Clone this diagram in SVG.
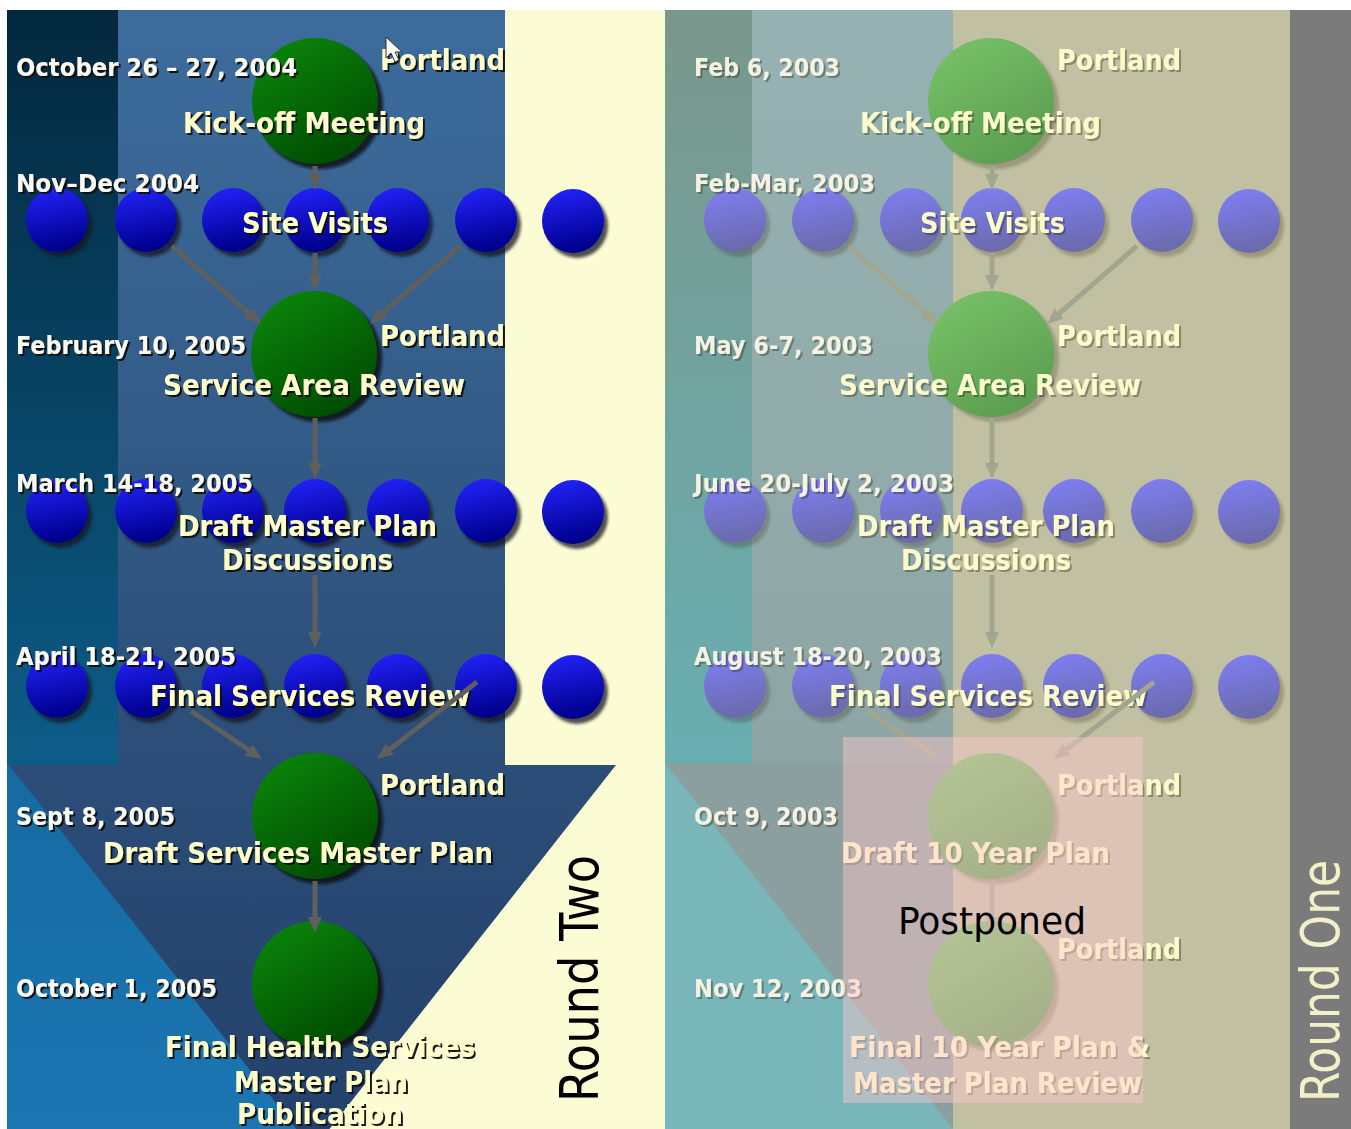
<svg xmlns="http://www.w3.org/2000/svg" xmlns:xlink="http://www.w3.org/1999/xlink" width="1351" height="1129" viewBox="0 0 1351 1129">
  <style>
    .date { font-family: "DejaVu Sans", Verdana, sans-serif; font-weight: bold; font-size: 24px; fill: #fafaf2; filter: url(#txtShadow); }
    .lbl { font-family: "DejaVu Sans Condensed", "DejaVu Sans", sans-serif; font-weight: bold; font-size: 29px; fill: #ffffcc; filter: url(#txtShadow); }
    .rdate { font-family: "DejaVu Sans", Verdana, sans-serif; font-weight: bold; font-size: 24px; fill: #f4f2e2; filter: url(#txtShadowSoft); }
    .rlbl { font-family: "DejaVu Sans Condensed", "DejaVu Sans", sans-serif; font-weight: bold; font-size: 29px; fill: #fbfbcb; filter: url(#txtShadowSoft); }
    .round { font-family: "DejaVu Sans Condensed", "DejaVu Sans", sans-serif; font-size: 53px; }
    .conn { stroke: #5f5f5f; stroke-width: 5; fill: none; marker-end: url(#headL); }
    .rconn { stroke: #a2a68e; stroke-width: 5; fill: none; marker-end: url(#headR); }
  </style>
  <defs>
    <filter id="txtShadow" x="-10%" y="-30%" width="120%" height="160%">
      <feDropShadow dx="2" dy="2" stdDeviation="0.7" flood-color="#101010" flood-opacity="0.95"/>
    </filter>
    <filter id="txtShadowSoft" x="-10%" y="-30%" width="120%" height="160%">
      <feDropShadow dx="2" dy="2" stdDeviation="0.7" flood-color="#202010" flood-opacity="0.35"/>
    </filter>
    <filter id="soft" x="-20%" y="-20%" width="140%" height="140%">
      <feGaussianBlur stdDeviation="1.5"/>
    </filter>

    <!-- left panel fills -->
    <linearGradient id="gLeftCol" x1="0" y1="0" x2="0" y2="1">
      <stop offset="0" stop-color="#03283e"/>
      <stop offset="1" stop-color="#0d5c88"/>
    </linearGradient>
    <linearGradient id="gLeftLow" x1="0" y1="0" x2="0" y2="1">
      <stop offset="0" stop-color="#166aa1"/>
      <stop offset="1" stop-color="#1b76b2"/>
    </linearGradient>
    <linearGradient id="gArrow" gradientUnits="userSpaceOnUse" x1="0" y1="10" x2="0" y2="1150">
      <stop offset="0" stop-color="#3d6d9d"/>
      <stop offset="0.62" stop-color="#2c4f79"/>
      <stop offset="1" stop-color="#22406a"/>
    </linearGradient>

    <!-- right panel fills -->
    <linearGradient id="gRCol" x1="0" y1="0" x2="0" y2="1">
      <stop offset="0" stop-color="#7a978c"/>
      <stop offset="1" stop-color="#68aeb1"/>
    </linearGradient>
    <linearGradient id="gRArrow" gradientUnits="userSpaceOnUse" x1="0" y1="10" x2="0" y2="1129">
      <stop offset="0" stop-color="#96b2b2"/>
      <stop offset="0.65" stop-color="#8ea5a5"/>
      <stop offset="1" stop-color="#8b9d9d"/>
    </linearGradient>

    <!-- bubble fills -->
    <linearGradient id="gBlue" x1="0" y1="0" x2="0.2" y2="1">
      <stop offset="0" stop-color="#2424ff"/>
      <stop offset="1" stop-color="#00008e"/>
    </linearGradient>
    <linearGradient id="gGreen" x1="0.2" y1="0" x2="0.8" y2="1">
      <stop offset="0" stop-color="#0a850a"/>
      <stop offset="1" stop-color="#004800"/>
    </linearGradient>
    <linearGradient id="gBlueR" x1="0" y1="0" x2="0.2" y2="1">
      <stop offset="0" stop-color="#7f7ff6"/>
      <stop offset="1" stop-color="#6b6bae"/>
    </linearGradient>
    <linearGradient id="gGreenR" x1="0.2" y1="0" x2="0.8" y2="1">
      <stop offset="0" stop-color="#77c167"/>
      <stop offset="1" stop-color="#5a9b50"/>
    </linearGradient>

    <g id="dotL">
      <ellipse cx="4" cy="5" rx="31" ry="32" fill="#141420" opacity="0.75" filter="url(#soft)"/>
      <ellipse cx="0" cy="0" rx="31" ry="32" fill="url(#gBlue)"/>
    </g>
    <g id="bigL">
      <ellipse cx="5" cy="5" rx="63" ry="63" fill="#0a0a0a" opacity="0.8" filter="url(#soft)"/>
      <ellipse cx="0" cy="0" rx="63" ry="63" fill="url(#gGreen)"/>
    </g>
    <g id="dotR">
      <ellipse cx="4" cy="5" rx="31" ry="32" fill="#302810" opacity="0.25" filter="url(#soft)"/>
      <ellipse cx="0" cy="0" rx="31" ry="32" fill="url(#gBlueR)"/>
    </g>
    <g id="bigR">
      <ellipse cx="5" cy="5" rx="63" ry="63" fill="#302810" opacity="0.25" filter="url(#soft)"/>
      <ellipse cx="0" cy="0" rx="63" ry="63" fill="url(#gGreenR)"/>
    </g>

    <marker id="headL" markerUnits="userSpaceOnUse" markerWidth="16" markerHeight="14" refX="6" refY="7" orient="auto">
      <path d="M0,0 L16,7 L0,14 z" fill="#5f5f5f"/>
    </marker>
    <marker id="headR" markerUnits="userSpaceOnUse" markerWidth="16" markerHeight="14" refX="6" refY="7" orient="auto">
      <path d="M0,0 L16,7 L0,14 z" fill="#a2a68e"/>
    </marker>
  </defs>

  <rect x="0" y="0" width="1351" height="1129" fill="#ffffff"/>

  <!-- ===== Round Two backdrop ===== -->
  <g id="backdrop-round-two">
    <rect x="7" y="10" width="111" height="755" fill="url(#gLeftCol)"/>
    <rect x="7" y="765" width="310" height="364" fill="url(#gLeftLow)"/>
    <rect x="315" y="10" width="350" height="1119" fill="#fcfcd4"/>
    <path d="M118,10 H505 V765 H616 L313,1150 L9,765 H118 Z" fill="url(#gArrow)"/>
  </g>

  <!-- ===== Round One backdrop ===== -->
  <g id="backdrop-round-one">
    <rect x="665" y="10" width="87" height="753" fill="url(#gRCol)"/>
    <rect x="665" y="763" width="290" height="366" fill="#79b6ba"/>
    <rect x="752" y="10" width="201" height="753" fill="url(#gRArrow)"/>
    <path d="M665,763 H953 V1129 Z" fill="#8c9f9f"/>
    <rect x="953" y="10" width="337" height="1119" fill="#c1c0a2"/>
    <rect x="1290" y="10" width="61" height="1119" fill="#7b7b7b"/>
  </g>

  <!-- ===== Round Two steps ===== -->
  <g id="r2-kickoff">
    <use xlink:href="#bigL" x="315" y="101"/>
    <text class="date" x="16" y="76" textLength="281" lengthAdjust="spacingAndGlyphs">October 26 – 27, 2004</text>
    <text class="lbl" x="380" y="70" textLength="125" lengthAdjust="spacingAndGlyphs">Portland</text>
    <text class="lbl" x="183" y="133" textLength="242" lengthAdjust="spacingAndGlyphs">Kick-off Meeting</text>
  </g>
  <g id="r2-site-visits">
    <use xlink:href="#dotL" x="57" y="220"/>
    <use xlink:href="#dotL" x="146" y="220"/>
    <use xlink:href="#dotL" x="233" y="220"/>
    <use xlink:href="#dotL" x="315" y="220"/>
    <use xlink:href="#dotL" x="398" y="220"/>
    <use xlink:href="#dotL" x="486" y="220"/>
    <use xlink:href="#dotL" x="573" y="221"/>
    <text class="date" x="16" y="192" textLength="183" lengthAdjust="spacingAndGlyphs">Nov–Dec 2004</text>
    <text class="lbl" x="242" y="233" textLength="146" lengthAdjust="spacingAndGlyphs">Site Visits</text>
  </g>
  <g id="r2-service-area">
    <use xlink:href="#bigL" x="314" y="354"/>
    <text class="date" x="16" y="354" textLength="230" lengthAdjust="spacingAndGlyphs">February 10, 2005</text>
    <text class="lbl" x="380" y="346" textLength="125" lengthAdjust="spacingAndGlyphs">Portland</text>
    <text class="lbl" x="163" y="395" textLength="302" lengthAdjust="spacingAndGlyphs">Service Area Review</text>
  </g>
  <g id="r2-draft-discussions">
    <use xlink:href="#dotL" x="57" y="511"/>
    <use xlink:href="#dotL" x="146" y="511"/>
    <use xlink:href="#dotL" x="233" y="511"/>
    <use xlink:href="#dotL" x="315" y="511"/>
    <use xlink:href="#dotL" x="398" y="511"/>
    <use xlink:href="#dotL" x="486" y="511"/>
    <use xlink:href="#dotL" x="573" y="512"/>
    <text class="date" x="16" y="492" textLength="237" lengthAdjust="spacingAndGlyphs">March 14-18, 2005</text>
    <text class="lbl" x="178" y="536" textLength="259" lengthAdjust="spacingAndGlyphs">Draft Master Plan</text>
    <text class="lbl" x="222" y="570" textLength="171" lengthAdjust="spacingAndGlyphs">Discussions</text>
  </g>
  <g id="r2-final-review">
    <use xlink:href="#dotL" x="57" y="686"/>
    <use xlink:href="#dotL" x="146" y="686"/>
    <use xlink:href="#dotL" x="233" y="686"/>
    <use xlink:href="#dotL" x="315" y="686"/>
    <use xlink:href="#dotL" x="398" y="686"/>
    <use xlink:href="#dotL" x="486" y="686"/>
    <use xlink:href="#dotL" x="573" y="687"/>
    <text class="date" x="16" y="665" textLength="220" lengthAdjust="spacingAndGlyphs">April 18-21, 2005</text>
    <text class="lbl" x="150" y="706" textLength="320" lengthAdjust="spacingAndGlyphs">Final Services Review</text>
  </g>
  <g id="r2-draft-master-plan">
    <use xlink:href="#bigL" x="315" y="816"/>
    <text class="date" x="16" y="825" textLength="159" lengthAdjust="spacingAndGlyphs">Sept 8, 2005</text>
    <text class="lbl" x="380" y="795" textLength="125" lengthAdjust="spacingAndGlyphs">Portland</text>
  </g>
  <g id="r2-publication">
    <use xlink:href="#bigL" x="315" y="984"/>
    <text class="date" x="16" y="997" textLength="201" lengthAdjust="spacingAndGlyphs">October 1, 2005</text>
  </g>

  <g id="r2-connectors">
    <line class="conn" x1="315" y1="166" x2="315" y2="180"/>
    <line class="conn" x1="315" y1="253" x2="315" y2="281"/>
    <line class="conn" x1="172" y1="246" x2="253.5" y2="317.4"/>
    <line class="conn" x1="460" y1="246" x2="377.6" y2="317.5"/>
    <line class="conn" x1="315" y1="418" x2="315" y2="469"/>
    <line class="conn" x1="315" y1="575" x2="315" y2="638"/>
    <line class="conn" x1="191" y1="711" x2="253.7" y2="753.4"/>
    <line class="conn" x1="477" y1="682" x2="384.9" y2="752.9"/>
    <line class="conn" x1="315" y1="881" x2="315" y2="923"/>
  </g>

  <!-- labels of the lower steps sit above their connectors -->
  <g id="r2-lower-labels">
    <text class="lbl" x="103" y="863" textLength="390" lengthAdjust="spacingAndGlyphs">Draft Services Master Plan</text>
    <text class="lbl" x="165" y="1057" textLength="310" lengthAdjust="spacingAndGlyphs">Final Health Services</text>
    <text class="lbl" x="234" y="1092" textLength="174" lengthAdjust="spacingAndGlyphs">Master Plan</text>
    <text class="lbl" x="237" y="1124" textLength="166" lengthAdjust="spacingAndGlyphs">Publication</text>
  </g>

  <!-- ===== Round One steps ===== -->
  <g id="r1-kickoff">
    <use xlink:href="#bigR" x="991" y="101"/>
    <text class="rdate" x="694" y="76" textLength="146" lengthAdjust="spacingAndGlyphs">Feb 6, 2003</text>
    <text class="rlbl" x="1057" y="70" textLength="124" lengthAdjust="spacingAndGlyphs">Portland</text>
    <text class="rlbl" x="860" y="133" textLength="241" lengthAdjust="spacingAndGlyphs">Kick-off Meeting</text>
  </g>
  <g id="r1-site-visits">
    <use xlink:href="#dotR" x="735" y="220"/>
    <use xlink:href="#dotR" x="823" y="220"/>
    <use xlink:href="#dotR" x="911" y="220"/>
    <use xlink:href="#dotR" x="992" y="220"/>
    <use xlink:href="#dotR" x="1074" y="220"/>
    <use xlink:href="#dotR" x="1162" y="220"/>
    <use xlink:href="#dotR" x="1249" y="221"/>
    <text class="rdate" x="694" y="192" textLength="181" lengthAdjust="spacingAndGlyphs">Feb-Mar, 2003</text>
    <text class="rlbl" x="920" y="233" textLength="145" lengthAdjust="spacingAndGlyphs">Site Visits</text>
  </g>
  <g id="r1-service-area">
    <use xlink:href="#bigR" x="991" y="354"/>
    <text class="rdate" x="694" y="354" textLength="179" lengthAdjust="spacingAndGlyphs">May 6-7, 2003</text>
    <text class="rlbl" x="1057" y="346" textLength="124" lengthAdjust="spacingAndGlyphs">Portland</text>
    <text class="rlbl" x="839" y="395" textLength="302" lengthAdjust="spacingAndGlyphs">Service Area Review</text>
  </g>
  <g id="r1-draft-discussions">
    <use xlink:href="#dotR" x="735" y="511"/>
    <use xlink:href="#dotR" x="823" y="511"/>
    <use xlink:href="#dotR" x="911" y="511"/>
    <use xlink:href="#dotR" x="992" y="511"/>
    <use xlink:href="#dotR" x="1074" y="511"/>
    <use xlink:href="#dotR" x="1162" y="511"/>
    <use xlink:href="#dotR" x="1249" y="512"/>
    <text class="rdate" x="694" y="492" textLength="260" lengthAdjust="spacingAndGlyphs">June 20-July 2, 2003</text>
    <text class="rlbl" x="857" y="536" textLength="258" lengthAdjust="spacingAndGlyphs">Draft Master Plan</text>
    <text class="rlbl" x="901" y="570" textLength="170" lengthAdjust="spacingAndGlyphs">Discussions</text>
  </g>
  <g id="r1-final-review">
    <use xlink:href="#dotR" x="735" y="686"/>
    <use xlink:href="#dotR" x="823" y="686"/>
    <use xlink:href="#dotR" x="911" y="686"/>
    <use xlink:href="#dotR" x="992" y="686"/>
    <use xlink:href="#dotR" x="1074" y="686"/>
    <use xlink:href="#dotR" x="1162" y="686"/>
    <use xlink:href="#dotR" x="1249" y="687"/>
    <text class="rdate" x="694" y="665" textLength="248" lengthAdjust="spacingAndGlyphs">August 18-20, 2003</text>
    <text class="rlbl" x="829" y="706" textLength="318" lengthAdjust="spacingAndGlyphs">Final Services Review</text>
  </g>
  <g id="r1-draft-ten-year">
    <use xlink:href="#bigR" x="991" y="816"/>
    <text class="rdate" x="694" y="825" textLength="144" lengthAdjust="spacingAndGlyphs">Oct 9, 2003</text>
    <text class="rlbl" x="1057" y="795" textLength="124" lengthAdjust="spacingAndGlyphs">Portland</text>
  </g>
  <g id="r1-final-ten-year">
    <use xlink:href="#bigR" x="991" y="984"/>
    <text class="rdate" x="694" y="997" textLength="168" lengthAdjust="spacingAndGlyphs">Nov 12, 2003</text>
    <text class="rlbl" x="1057" y="959" textLength="124" lengthAdjust="spacingAndGlyphs">Portland</text>
  </g>

  <g id="r1-connectors">
    <line class="rconn" x1="992" y1="166" x2="992" y2="180"/>
    <line class="rconn" x1="992" y1="253" x2="992" y2="281"/>
    <line class="rconn" x1="849" y1="246" x2="930.5" y2="317.4"/>
    <line class="rconn" x1="1137" y1="246" x2="1054.6" y2="317.5"/>
    <line class="rconn" x1="992" y1="418" x2="992" y2="469"/>
    <line class="rconn" x1="992" y1="575" x2="992" y2="638"/>
    <line class="rconn" x1="868" y1="711" x2="930.7" y2="753.4"/>
    <line class="rconn" x1="1154" y1="682" x2="1061.9" y2="752.9"/>
    <line class="rconn" x1="992" y1="881" x2="992" y2="923"/>
  </g>

  <g id="r1-lower-labels">
    <text class="rlbl" x="841" y="863" textLength="269" lengthAdjust="spacingAndGlyphs">Draft 10 Year Plan</text>
    <text class="rlbl" x="849" y="1057" textLength="301" lengthAdjust="spacingAndGlyphs">Final 10 Year Plan &amp;</text>
    <text class="rlbl" x="853" y="1093" textLength="289" lengthAdjust="spacingAndGlyphs">Master Plan Review</text>
  </g>

  <!-- postponed steps are veiled -->
  <g id="postponed">
    <rect x="843" y="737" width="300" height="366" fill="#ffc8cc" opacity="0.45"/>
    <text x="898" y="934" textLength="188" lengthAdjust="spacingAndGlyphs" font-family="DejaVu Sans Condensed, DejaVu Sans, sans-serif" font-size="38" fill="#000000">Postponed</text>
  </g>

  <g id="round-labels">
    <text class="round" transform="translate(598,1102) rotate(-90)" x="0" y="0" textLength="247" lengthAdjust="spacingAndGlyphs" fill="#000000">Round Two</text>
    <text class="round" transform="translate(1339,1102) rotate(-90)" x="0" y="0" textLength="242" lengthAdjust="spacingAndGlyphs" fill="#f2f0c8">Round One</text>
  </g>

  <!-- pointer -->
  <polygon id="pointer" points="386,37 386,58 391,53 395,62 399,60 395,52 402,52" fill="#ffffff" stroke="#333333" stroke-width="1" stroke-linejoin="round"/>
</svg>
